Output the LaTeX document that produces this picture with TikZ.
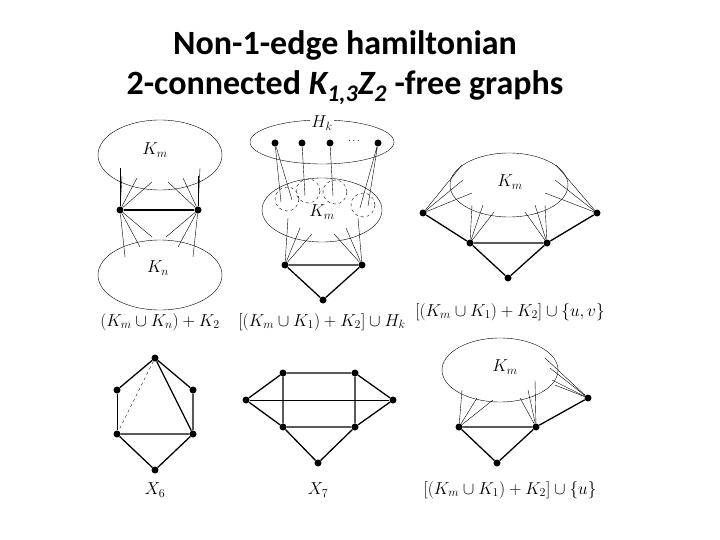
\documentclass[tikz,border=0pt]{standalone}
\usepackage{fontspec}
\setmainfont{Carlito}
\begin{document}
\begin{tikzpicture}[x=1pt,y=-1pt,
  dot/.style={circle,fill=black,inner sep=0pt,minimum size=7pt},
  thk/.style={line width=1.3pt},
  thn/.style={line width=0.4pt},
  lab/.style={font=\fontsize{17}{20}\selectfont}]
\useasboundingbox (0,0) rectangle (720,540);
\node[align=center,font=\fontsize{34}{40}\selectfont\bfseries] (title) at (345,68)
  {Non-1-edge hamiltonian\\2-connected \textit{K\textsubscript{1,3}Z\textsubscript{2}} -free graphs};
% Graph 1
\draw[thn] (160,155) ellipse (62 and 35);
\draw[thn] (160,275) ellipse (62 and 35);
\node[lab] (km1) at (155,150) {$K_m$};
\node[lab] (kn1) at (158,268) {$K_n$};
\node[dot] (a1) at (120,210) {};
\node[dot] (a2) at (198,210) {};
\draw[thk] (a1)--(a2);
\foreach \p in {(122,176),(137,178),(152,182),(120,168)} \draw[thn] (a1)--\p;
\foreach \p in {(198,176),(183,178),(168,182),(200,168)} \draw[thn] (a2)--\p;
\foreach \p in {(125,257),(140,247),(152,237)} \draw[thn] (a1)--\p;
\foreach \p in {(193,257),(178,247),(166,237)} \draw[thn] (a2)--\p;
\node[lab] (l1) at (160,322) {$(K_m\cup K_n)+K_2$};
% Graph 2
\draw[thn] (322,142) ellipse (72 and 22);
\node[lab,fill=white,inner sep=1pt] (hk) at (322,123) {$H_k$};
\draw[thn] (322,210) ellipse (60 and 32);
\node[lab] (km2) at (322,212) {$K_m$};
\foreach \c in {(287,199),(308,191),(335,192),(363,205)} \draw[thn,dashed] \c circle (12);
\node[dot] (h1) at (275,143) {};
\node[dot] (h2) at (302,143) {};
\node[dot] (h3) at (330,143) {};
\node (hd) at (354,141) {$\cdots$};
\node[dot] (h4) at (378,143) {};
\draw[thn] (h1)--(281,202) (h1)--(292,200) (h2)--(305,196) (h3)--(333,196) (h4)--(360,208) (h4)--(368,206);
\node[dot] (b1) at (285,265) {};
\node[dot] (b2) at (362,265) {};
\node[dot] (b3) at (323,300) {};
\draw[thk] (b1)--(b2) (b1)--(b3) (b2)--(b3);
\foreach \p in {(288,218),(300,228),(312,234)} \draw[thn] (b1)--\p;
\foreach \p in {(358,218),(346,228),(334,234)} \draw[thn] (b2)--\p;
\node[lab] (l2) at (322,322) {$[(K_m\cup K_1)+K_2]\cup H_k$};
% Graph 3
\draw[thn] (509,185) ellipse (59 and 32);
\node[lab] (km3) at (510,182) {$K_m$};
\node[dot] (c1) at (423,213) {};
\node[dot] (c2) at (470,243) {};
\node[dot] (c3) at (547,243) {};
\node[dot] (c4) at (597,213) {};
\node[dot] (c5) at (508,278) {};
\draw[thk] (c1)--(c2)--(c3)--(c4) (c2)--(c5)--(c3);
\foreach \p in {(462,165),(463,180),(472,193)} \draw[thn] (c1)--\p;
\foreach \p in {(556,165),(555,180),(545,193)} \draw[thn] (c4)--\p;
\foreach \p in {(472,205),(483,205),(494,212)} \draw[thn] (c2)--\p;
\foreach \p in {(545,205),(535,205),(525,212)} \draw[thn] (c3)--\p;
\node[lab] (l3) at (510,312) {$[(K_m\cup K_1)+K_2]\cup\{u,v\}$};
% X6
\node[dot] (x1) at (155,358) {};
\node[dot] (x2) at (117,390) {};
\node[dot] (x3) at (193,390) {};
\node[dot] (x4) at (117,434) {};
\node[dot] (x5) at (193,434) {};
\node[dot] (x6) at (155,470) {};
\draw[thk] (x1)--(x2) (x1)--(x3) (x3)--(x5) (x4)--(x5) (x4)--(x6) (x5)--(x6) (x1)--(x5);
\draw[thn] (x2)--(x4);
\draw[thn,dashed] (x1)--(x4);
\node[lab] (lx6) at (155,490) {$X_6$};
% X7
\node[dot] (y1) at (246,400) {};
\node[dot] (y2) at (283,373) {};
\node[dot] (y3) at (355,373) {};
\node[dot] (y4) at (393,400) {};
\node[dot] (y5) at (283,427) {};
\node[dot] (y6) at (355,427) {};
\node[dot] (y7) at (318,463) {};
\draw[thk] (y1)--(y2) (y1)--(y5) (y2)--(y3)--(y6)--(y5)--(y2) (y4)--(y3) (y4)--(y6) (y5)--(y7)--(y6);
\draw[thn] (y1)--(y4);
\node[lab] (lx7) at (318,490) {$X_7$};
% Graph 6
\draw[thn] (500,370) ellipse (58 and 32);
\node[lab] (km6) at (505,367) {$K_m$};
\node[dot] (d1) at (459,427) {};
\node[dot] (d2) at (536,427) {};
\node[dot] (d3) at (588,398) {};
\node[dot] (d4) at (497,463) {};
\draw[thk] (d1)--(d2)--(d4)--(d1) (d2)--(d3);
\foreach \p in {(462,390),(477,398),(493,400)} \draw[thn] (d1)--\p;
\foreach \p in {(520,398),(528,390),(535,380)} \draw[thn] (d2)--\p;
\foreach \p in {(545,358),(550,368),(552,380),(555,385)} \draw[thn] (d3)--\p;
\node[lab] (l6) at (510,490) {$[(K_m\cup K_1)+K_2]\cup\{u\}$};
\end{tikzpicture}
\end{document}
